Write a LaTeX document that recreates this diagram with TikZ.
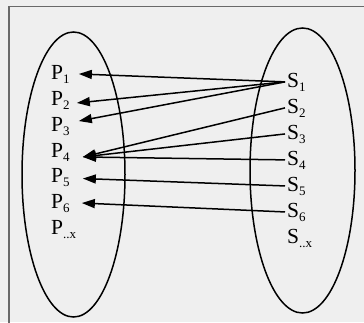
\documentclass[tikz,border=0pt]{standalone}
\usepackage{fontspec}
\setmainfont{Liberation Serif}
\definecolor{bggray}{RGB}{239,239,239}
\definecolor{framegray}{RGB}{105,105,105}
\usetikzlibrary{arrows.meta}
\newcommand{\sidx}[1]{\raisebox{-4pt}{\fontsize{13}{13}\selectfont #1}}
\tikzset{
  pset/.style={anchor=base west, inner xsep=9pt, inner ysep=0pt,
               font=\fontsize{21.5}{25}\selectfont},
  sset/.style={anchor=base west, inner xsep=2pt, inner ysep=0pt,
               font=\fontsize{21.5}{25}\selectfont},
  arr/.style={-{Triangle[length=13pt, width=9pt]}, line width=1.5pt},
  setline/.style={line width=1.5pt},
}

\begin{document}
\begin{tikzpicture}[x=1pt, y=-1pt]
  \useasboundingbox (0,0) rectangle (364,322);
  \fill[bggray] (0,0) rectangle (364,322);
  \draw[framegray, line width=1.4pt] (9,330) -- (9,6.5) -- (370,6.5);

  % ── the two sets ───────────────────────────────────────
  \draw[setline] (73.5,174.5) ellipse [x radius=51.5, y radius=142.5];
  \draw[setline] (302.5,170.5) ellipse [x radius=52.5, y radius=142.5];

  % ── P labels (left set) ────────────────────────────────
  \foreach \k/\y in {1/79,2/105,3/131,4/157,5/182,6/208}
    \node[pset] (p\k) at (42,\y) {P\sidx{\k}};
  \node[pset] (px) at (42,234) {P\sidx{..x}};

  % ── S labels (right set) ───────────────────────────────
  \foreach \k/\y in {1/87,2/113,3/139,4/165,5/191,6/217}
    \node[sset] (s\k) at (285,\y) {S\sidx{\k}};
  \node[sset] (sx) at (285,243) {S\sidx{..x}};

  % ── mappings ───────────────────────────────────────────
  \draw[arr] (s1.west) -- (p1.east);
  \draw[arr] (s1.west) -- ([xshift=-2pt, yshift=-3pt]p2.east);
  \draw[arr] (s1.west) -- ([yshift=5pt]p3.east);
  \foreach \k in {2,3,4}
    \draw[arr] (s\k.west) -- ([xshift=4pt, yshift=-5pt]p4.east);
  \draw[arr] (s5.west) -- ([xshift=4pt, yshift=-1.5pt]p5.east);
  \draw[arr] (s6.west) -- ([xshift=3pt]p6.east);
\end{tikzpicture}
\end{document}
